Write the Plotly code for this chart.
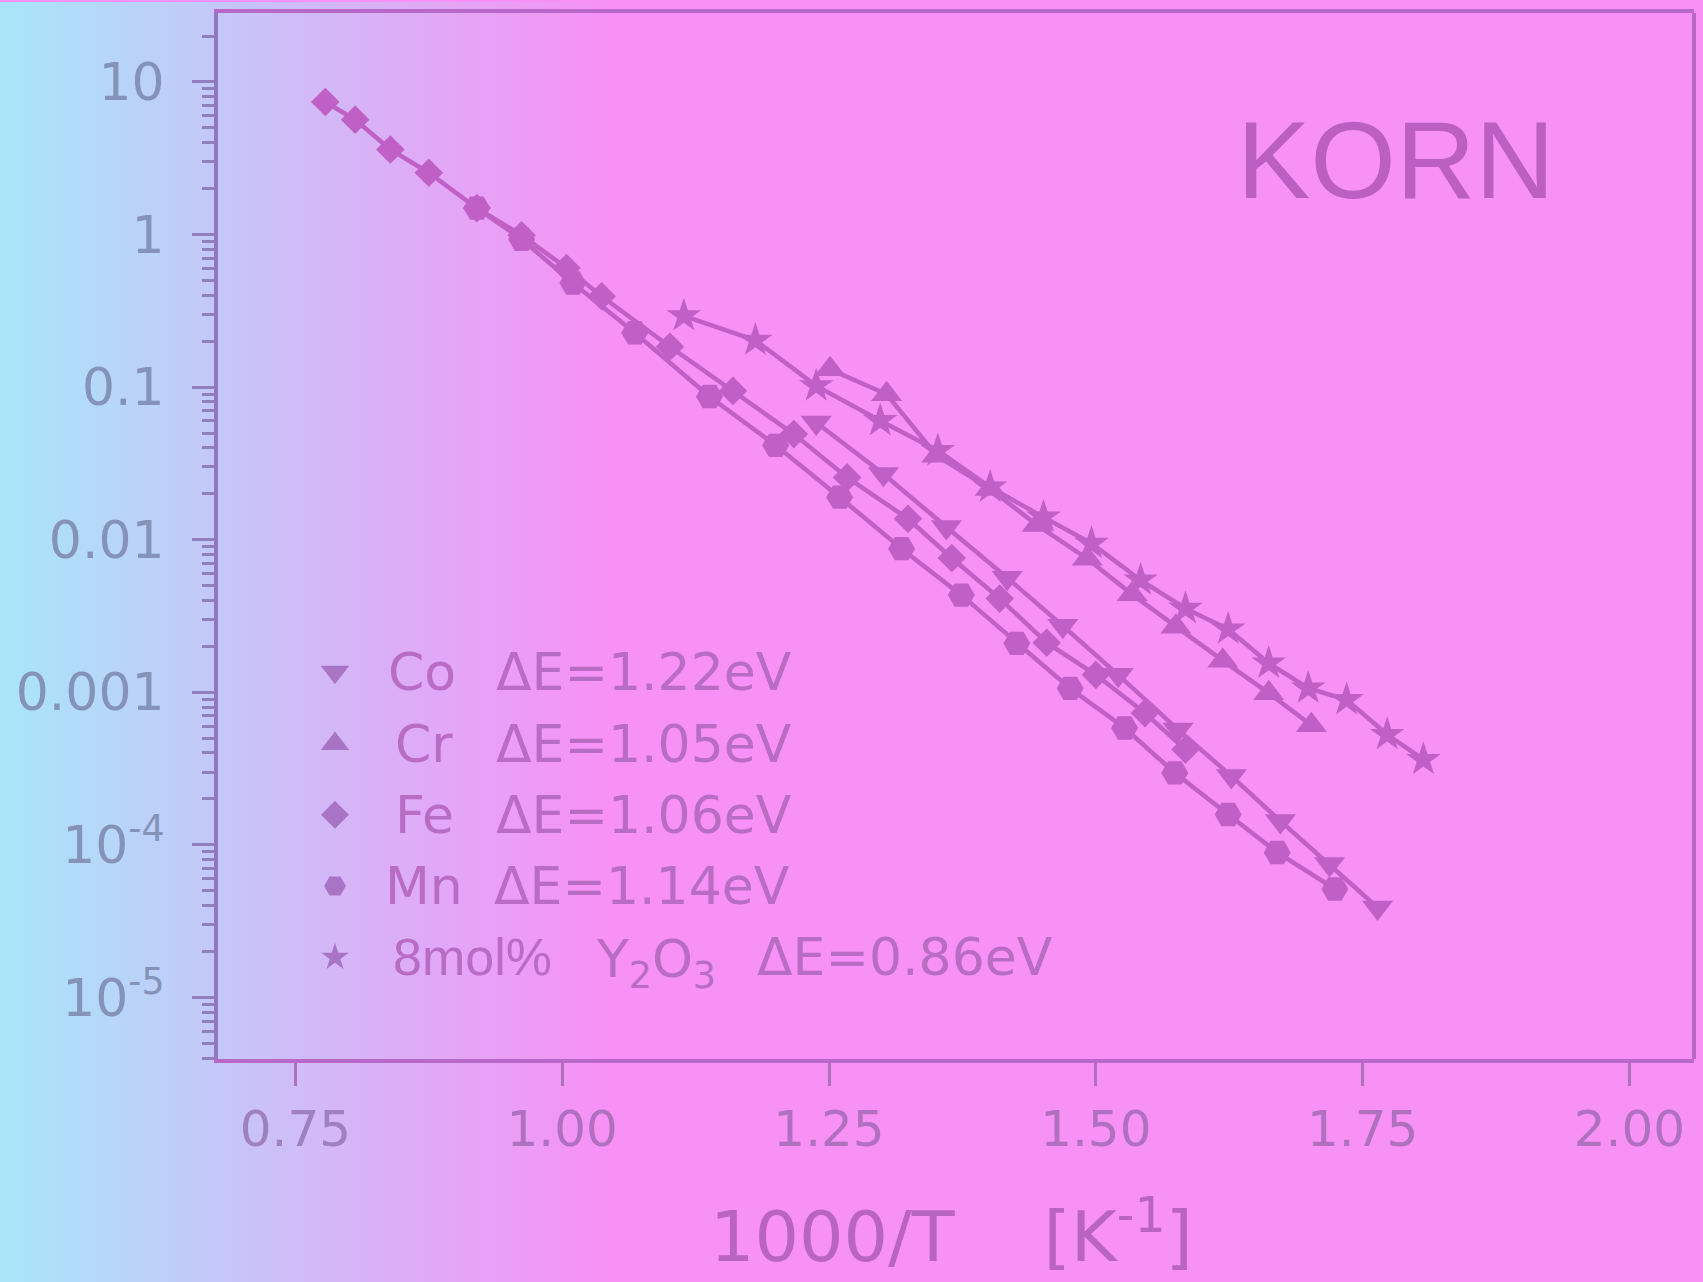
import plotly.graph_objects as go

# ---------------- data ----------------
co_x = [1.238, 1.301, 1.360, 1.417, 1.469, 1.521, 1.577, 1.627, 1.673, 1.719, 1.764]
co_y = [0.0586, 0.02695, 0.0121, 0.00562, 0.00273, 0.00130, 0.000569, 0.000282, 0.000143, 7.47e-5, 3.88e-5]

cr_x = [1.251, 1.304, 1.351, 1.401, 1.445, 1.492, 1.534, 1.575, 1.619, 1.662, 1.702]
cr_y = [0.1307, 0.0897, 0.0355, 0.0215, 0.01246, 0.0075, 0.00438, 0.00269, 0.00161, 0.000986, 0.000607]

fe_x = [0.778, 0.806, 0.839, 0.875, 0.920, 0.962, 1.004, 1.037, 1.101, 1.160, 1.217, 1.267,
        1.324, 1.365, 1.410, 1.454, 1.500, 1.546, 1.584]
fe_y = [7.39, 5.66, 3.61, 2.54, 1.49, 0.99, 0.603, 0.394, 0.184, 0.0944, 0.0492, 0.0256,
        0.0137, 0.00759, 0.00411, 0.00211, 0.00130, 0.00073, 0.000421]

mn_x = [0.920, 0.962, 1.010, 1.068, 1.138, 1.200, 1.260, 1.318, 1.374, 1.426, 1.476, 1.527,
        1.574, 1.624, 1.670, 1.724]
mn_y = [1.49, 0.932, 0.481, 0.227, 0.0867, 0.0415, 0.0190, 0.00873, 0.00433, 0.00209, 0.00106,
        0.000583, 0.000296, 0.000158, 8.9e-5, 5.13e-5]

ysz_x = [1.114, 1.181, 1.238, 1.298, 1.352, 1.401, 1.451, 1.496, 1.542, 1.584, 1.624, 1.662,
         1.699, 1.735, 1.773, 1.807]
ysz_y = [0.293, 0.2027, 0.1018, 0.0602, 0.0383, 0.02207, 0.01405, 0.00944, 0.00543, 0.00354,
         0.00259, 0.00155, 0.001063, 0.000893, 0.000528, 0.000362]

legend_labels = ["Co", "Cr", "Fe", "Mn", "8mol%"]
legend_energies = ["\u0394E=1.22eV", "\u0394E=1.05eV", "\u0394E=1.06eV", "\u0394E=1.14eV", "\u0394E=0.86eV"]
ysz_formula = "Y<sub>2</sub>O<sub>3</sub>"

x_tickvals = [0.75, 1.00, 1.25, 1.50, 1.75, 2.00]
x_ticktext = ["<span style='color:#9f80c0'>0.75</span>", "1.00", "1.25", "1.50", "1.75", "2.00"]
y_tickvals = [1e-5, 1e-4, 1e-3, 1e-2, 1e-1, 1, 10]
y_ticktext = ["10<sup>-5</sup>", "10<sup>-4</sup>", "0.001", "0.01", "0.1", "1", "10"]

# ---------------- style ----------------
INK = "#c060c6"
TEXT_INK = "#b96cc4"
KEY_INK = "#aa74c6"
FONT = "DejaVu Sans, Liberation Sans, sans-serif"
FONT_A = "Liberation Sans, Arial, sans-serif"
W, H = 1703, 1282
L, R, T, B = 218, 9, 9, 223
PW, PH = W - L - R, H - T - B


def px_x(px):
    return (px - L) / PW


def px_y(py):
    return 1 - (py - T) / PH


series = [
    (co_x, co_y, "triangle-down", 27),
    (cr_x, cr_y, "triangle-up", 27),
    (fe_x, fe_y, "diamond", 22),
    (mn_x, mn_y, "hexagon2", 27),
    (ysz_x, ysz_y, "star", 26),
]

fig = go.Figure()
for xs, ys, sym, sz in series:
    fig.add_trace(go.Scatter(
        x=xs, y=ys, mode="lines+markers", showlegend=False,
        line=dict(color=INK, width=4.5),
        marker=dict(symbol=sym, size=sz, color=INK),
    ))
# legend keys (marker only; texts are annotations for column alignment)
for xs, ys, sym, sz in series:
    lw = 2 if sym == "star" else 5
    fig.add_trace(go.Scatter(
        x=[None], y=[None], mode="markers", name="\u00a0", showlegend=True,
        marker=dict(symbol=sym, size=16, color=KEY_INK, line=dict(color=KEY_INK, width=lw)),
    ))

# background gradient (cyan on left -> pink)
c0 = (168, 230, 249)
c1 = (247, 145, 246)
shapes = []
grad_w = 600
step = 8
for px in range(0, grad_w, step):
    t = (px + step / 2) / grad_w
    col = tuple(int(round(c0[i] + (c1[i] - c0[i]) * t)) for i in range(3))
    shapes.append(dict(
        type="rect", xref="paper", yref="paper", layer="below",
        x0=px_x(px), x1=px_x(px + step + 1),
        y0=px_y(H + 2), y1=px_y(-2),
        fillcolor="rgb(%d,%d,%d)" % col, line=dict(width=0),
    ))
# right frame line
shapes.append(dict(type="line", xref="paper", yref="paper", x0=1, x1=1, y0=0, y1=1,
                   line=dict(color="#b868c8", width=4)))

# legend text annotations
row_y = [671, 742.5, 814, 885.5, 957]
label_x = [386, 393, 393, 383, 391]
energy_x = [494, 494, 494, 492, 755]
annotations = []
for i in range(5):
    fam = FONT_A if i == 4 else FONT
    annotations.append(dict(text=legend_labels[i], xref="paper", yref="paper",
                            x=px_x(label_x[i]), y=px_y(row_y[i]), xanchor="left", yanchor="middle",
                            showarrow=False, font=dict(size=52, color=TEXT_INK, family=fam)))
    annotations.append(dict(text=legend_energies[i], xref="paper", yref="paper",
                            x=px_x(energy_x[i]), y=px_y(row_y[i]), xanchor="left", yanchor="middle",
                            showarrow=False, font=dict(size=52, color=TEXT_INK, family=FONT)))
annotations.append(dict(text=ysz_formula, xref="paper", yref="paper",
                        x=px_x(594), y=px_y(row_y[4]), xanchor="left", yanchor="top",
                        yshift=30, showarrow=False,
                        font=dict(size=52, color=TEXT_INK, family=FONT)))
annotations.append(dict(text="KORN", xref="paper", yref="paper", x=px_x(1396), y=px_y(156),
                        xanchor="center", yanchor="middle", showarrow=False,
                        font=dict(size=110, color="#bb60c2", family=FONT_A)))
annotations.append(dict(text="1000/T\u00a0\u00a0\u00a0\u00a0[K<sup>-1</sup>]", xref="paper", yref="paper",
                        x=px_x(951), y=px_y(1281), xanchor="center", yanchor="bottom",
                        showarrow=False, font=dict(size=70, color="#b864c0", family=FONT)))

fig.update_layout(
    width=W, height=H,
    margin=dict(l=L, r=R, t=T, b=B),
    paper_bgcolor="rgb(247,145,246)",
    plot_bgcolor="rgba(0,0,0,0)",
    font=dict(family=FONT, color=TEXT_INK),
    shapes=shapes,
    showlegend=True,
    legend=dict(
        x=px_x(290), y=px_y(630), xanchor="left", yanchor="top",
        bgcolor="rgba(0,0,0,0)", borderwidth=0,
        font=dict(size=52.5, color=TEXT_INK, family=FONT),
        itemwidth=80, tracegroupgap=0,
    ),
    xaxis=dict(
        type="linear", range=[0.6775, 2.0605],
        tickvals=x_tickvals, ticktext=x_ticktext,
        ticks="outside", ticklen=23, tickwidth=3, tickcolor="#b070c0",
        showline=True, linewidth=4, linecolor="#b868c8", mirror=True,
        showgrid=False, zeroline=False,
        tickfont=dict(size=50, color="#b070c0", family=FONT),
    ),
    yaxis=dict(
        type="log", range=[-5.404, 1.452],
        tickvals=y_tickvals, ticktext=y_ticktext,
        ticks="outside", ticklen=22, tickwidth=3, tickcolor="#9080c0",
        showline=True, linewidth=4, linecolor="#9078c0", mirror=False,
        showgrid=False, zeroline=False,
        tickfont=dict(size=52, color="#8593b8", family=FONT),
        ticklabelstandoff=17,
        minor=dict(
            tickvals=[k * 10.0 ** e for e in range(-6, 2) for k in range(2, 10)],
            ticks="outside", ticklen=12, tickwidth=3, tickcolor="#9080c0", showgrid=False,
        ),
    ),
    annotations=annotations,
)

fig.write_html(
    "out.html",
    config={"displayModeBar": False},
    post_script="document.body.style.margin='0';document.body.style.overflow='hidden';",
)
